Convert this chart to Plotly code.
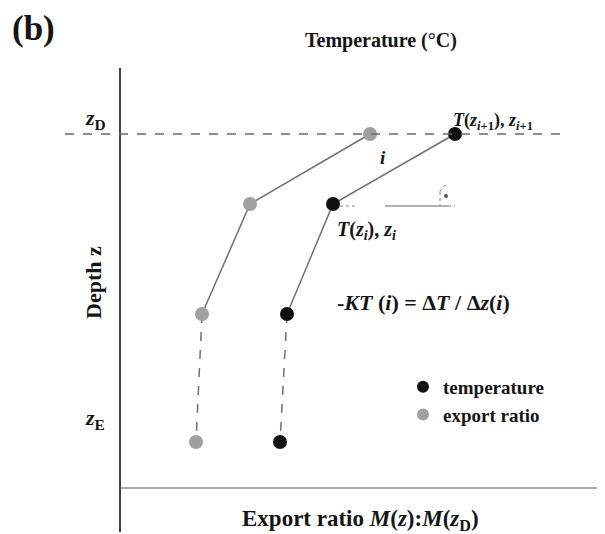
import plotly.graph_objects as go

# schematic coordinates (units: horizontal position, depth increasing downward)
temp_x = [455, 333, 287, 280]
temp_z = [134, 204, 314, 442]
exp_x = [370, 250, 202, 196]
exp_z = [134, 204, 314, 442]

FONT = "Liberation Serif"
LINE = "#707070"
TXT = "#151515"

fig = go.Figure()

# solid segments (first three points) and dashed segment (last two)
for xs, zs in [(temp_x, temp_z), (exp_x, exp_z)]:
    fig.add_trace(go.Scatter(x=xs[:3], y=zs[:3], mode="lines",
                             line=dict(color=LINE, width=1.5), showlegend=False, hoverinfo="skip"))
    fig.add_trace(go.Scatter(x=xs[2:], y=zs[2:], mode="lines",
                             line=dict(color=LINE, width=1.5, dash="dash"), showlegend=False, hoverinfo="skip"))

fig.add_trace(go.Scatter(x=temp_x, y=temp_z, mode="markers", name="<b>temperature</b>",
                         marker=dict(color="#111111", size=14, line=dict(width=0))))
fig.add_trace(go.Scatter(x=exp_x, y=exp_z, mode="markers", name="<b>export ratio</b>",
                         marker=dict(color="#a0a0a0", size=14, line=dict(width=0))))

shapes = [
    # vertical axis
    dict(type="line", x0=120, x1=120, y0=68, y1=532, line=dict(color="#444", width=2)),
    # bottom axis
    dict(type="line", x0=120, x1=602, y0=488, y1=488, line=dict(color="#555", width=1.2)),
    # z_D dashed line
    dict(type="line", x0=65, x1=567, y0=134, y1=134, line=dict(color="#6a6a6a", width=1.5, dash="dash")),
    # slope construction lines
    dict(type="line", x0=340, x1=357, y0=206, y1=206, line=dict(color="#888", width=1.2, dash="dot")),
    dict(type="line", x0=385, x1=448, y0=206, y1=206, line=dict(color="#666", width=1.2)),
    dict(type="line", x0=448, x1=455, y0=206, y1=206, line=dict(color="#888", width=1, dash="dot")),
    dict(type="line", x0=440, x1=440, y0=192, y1=206, line=dict(color="#888", width=1, dash="dot")),
    dict(type="path", path="M 440 192 Q 442 186 447 185", line=dict(color="#888", width=1, dash="dot")),
    dict(type="circle", x0=444, x1=448, y0=194, y1=198, fillcolor="#555", line=dict(width=0)),
    # small ticks at ends
    dict(type="line", x0=598, x1=598, y0=64, y1=70, line=dict(color="#555", width=2)),
]

annotations = [
    dict(x=10, y=28, text="<b>(b)</b>", size=35, xanchor="left"),
    dict(x=381, y=40, text="<b>Temperature (°C)</b>", size=20),
    dict(x=95, y=119, text="<b><i>z</i><sub>D</sub></b>", size=22),
    dict(x=95, y=419, text="<b><i>z</i><sub>E</sub></b>", size=22),
    dict(x=93, y=283, text="<b>Depth z</b>", size=22, textangle=-90),
    dict(x=360, y=520, text="<b>Export ratio <i>M</i>(<i>z</i>):<i>M</i>(<i>z</i><sub>D</sub>)</b>", size=23),
    dict(x=451, y=121, text="<b><i>T</i>(<i>z</i><sub><i>i</i>+1</sub>), <i>z</i><sub><i>i</i>+1</sub></b>", size=18, xanchor="left"),
    dict(x=383, y=157, text="<b><i>i</i></b>", size=19),
    dict(x=335, y=230, text="<b><i>T</i>(<i>z</i><sub><i>i</i></sub>), <i>z</i><sub><i>i</i></sub></b>", size=20, xanchor="left"),
    dict(x=335, y=302, text="<b>-<i>KT</i> (<i>i</i>) = Δ<i>T</i> / Δ<i>z</i>(<i>i</i>)</b>", size=22, xanchor="left"),
]
for a in annotations:
    size = a.pop("size")
    a.update(xref="x", yref="y", showarrow=False, yanchor="middle",
             font=dict(family=FONT, size=size, color=TXT))

# page is offset by the 8px body margin; map page pixels directly
fig.update_layout(
    width=597, height=526,
    margin=dict(l=0, r=0, t=0, b=0),
    paper_bgcolor="white", plot_bgcolor="white",
    xaxis=dict(range=[8, 605], visible=False, fixedrange=True),
    yaxis=dict(range=[534, 8], visible=False, fixedrange=True),
    shapes=shapes, annotations=annotations,
    showlegend=True,
    legend=dict(x=(403 - 8) / 597, y=1 - (368 - 8) / 526, xanchor="left", yanchor="top",
                font=dict(family=FONT, size=19, color=TXT),
                bgcolor="rgba(0,0,0,0)", tracegroupgap=0, itemsizing="constant"),
)

fig.write_html("out.html")
